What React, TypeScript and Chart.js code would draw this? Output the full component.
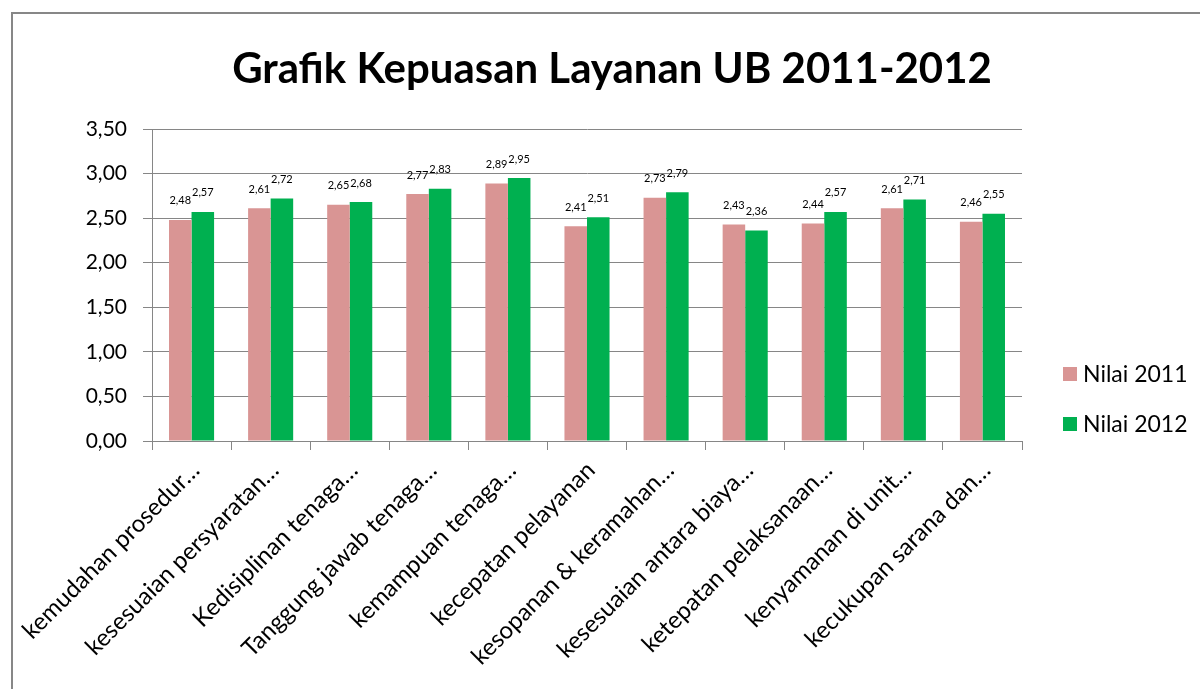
import { useEffect, useRef } from 'react';
import { Chart, registerables } from 'chart.js';

Chart.register(...registerables);

const chartTitle = 'Grafik Kepuasan Layanan UB 2011-2012';
const categories = [
  'kemudahan prosedur…',
  'kesesuaian persyaratan…',
  'Kedisiplinan tenaga…',
  'Tanggung jawab tenaga…',
  'kemampuan tenaga…',
  'kecepatan pelayanan',
  'kesopanan & keramahan…',
  'kesesuaian antara biaya…',
  'ketepatan pelaksanaan…',
  'kenyamanan di unit…',
  'kecukupan sarana dan…',
];
const seriesNames = ['Nilai 2011', 'Nilai 2012'];
const nilai2011 = [2.48, 2.61, 2.65, 2.77, 2.89, 2.41, 2.73, 2.43, 2.44, 2.61, 2.46];
const nilai2012 = [2.57, 2.72, 2.68, 2.83, 2.95, 2.51, 2.79, 2.36, 2.57, 2.71, 2.55];
const yMin = 0;
const yMax = 3.5;
const yStep = 0.5;

const seriesColors = ['#D99594', '#00B050'];
const gridColor = '#868686';
const FONT = 'Lato, "Open Sans", sans-serif';

const fmt = (v: number) => v.toFixed(2).replace('.', ',');

const framePlugin = {
  id: 'frame',
  beforeDraw(chart: any) {
    const ctx = chart.ctx;
    ctx.save();
    ctx.fillStyle = '#ffffff';
    ctx.fillRect(0, 0, chart.width, chart.height);
    ctx.strokeStyle = '#878787';
    ctx.lineWidth = 2;
    ctx.beginPath();
    ctx.moveTo(12, chart.height);
    ctx.lineTo(12, 13);
    ctx.lineTo(chart.width, 13);
    ctx.stroke();
    ctx.restore();
  },
};

const titlePlugin = {
  id: 'customTitle',
  afterDraw(chart: any) {
    const ctx = chart.ctx;
    ctx.save();
    let size = 40;
    ctx.font = `bold ${size}px ${FONT}`;
    const w = ctx.measureText(chartTitle).width;
    size = size * (760 / w);
    ctx.font = `bold ${size}px ${FONT}`;
    ctx.fillStyle = '#000000';
    ctx.textAlign = 'center';
    ctx.textBaseline = 'alphabetic';
    ctx.fillText(chartTitle, 612, 83);
    ctx.restore();
  },
};

const legendPlugin = {
  id: 'customLegend',
  afterDraw(chart: any) {
    const ctx = chart.ctx;
    ctx.save();
    ctx.font = `23px ${FONT}`;
    ctx.textBaseline = 'middle';
    ctx.textAlign = 'left';
    chart.data.datasets.forEach((ds: any, i: number) => {
      const cy = 374 + i * 50;
      ctx.fillStyle = ds.backgroundColor;
      ctx.fillRect(1063, cy - 7, 14, 14);
      ctx.fillStyle = '#000000';
      ctx.fillText(ds.label, 1083, cy + 1);
    });
    ctx.restore();
  },
};

const dataLabelPlugin = {
  id: 'dataLabels',
  afterDatasetsDraw(chart: any) {
    const ctx = chart.ctx;
    ctx.save();
    ctx.font = `11px ${FONT}`;
    ctx.fillStyle = '#000000';
    ctx.textAlign = 'center';
    ctx.textBaseline = 'middle';
    chart.data.datasets.forEach((ds: any, i: number) => {
      const meta = chart.getDatasetMeta(i);
      meta.data.forEach((bar: any, j: number) => {
        ctx.fillText(fmt(ds.data[j]), bar.x, bar.y - 19);
      });
    });
    ctx.restore();
  },
};

export default function App() {
  const ref = useRef<HTMLCanvasElement | null>(null);

  useEffect(() => {
    if (!ref.current) return;
    const chart = new Chart(ref.current, {
      type: 'bar',
      data: {
        labels: categories,
        datasets: [
          { label: seriesNames[0], data: nilai2011, backgroundColor: seriesColors[0] },
          { label: seriesNames[1], data: nilai2012, backgroundColor: seriesColors[1] },
        ],
      },
      options: {
        responsive: false,
        animation: false,
        devicePixelRatio: 1,
        layout: { padding: { top: 129, right: 178, bottom: 0, left: 0 } },
        datasets: {
          bar: { categoryPercentage: 0.57, barPercentage: 1.0, borderWidth: 0 },
        },
        plugins: {
          legend: { display: false },
          title: { display: false },
          tooltip: { enabled: false },
        },
        scales: {
          x: {
            offset: true,
            grid: {
              display: true,
              offset: true,
              drawOnChartArea: false,
              drawTicks: true,
              tickLength: 9,
              color: gridColor,
            },
            border: { display: true, color: gridColor, width: 1 },
            ticks: {
              autoSkip: false,
              minRotation: 45,
              maxRotation: 45,
              padding: 6,
              labelOffset: 4,
              color: '#000000',
              font: { family: FONT, size: 24 },
            },
            afterFit(scale: any) {
              scale.height = 248;
            },
          },
          y: {
            min: yMin,
            max: yMax,
            ticks: {
              stepSize: yStep,
              color: '#000000',
              padding: 16,
              font: { family: FONT, size: 21 },
              callback: (v: any) => fmt(Number(v)),
            },
            grid: { color: gridColor, tickLength: 9, drawTicks: true },
            border: { display: true, color: gridColor, width: 1 },
            afterFit(scale: any) {
              scale.width = 152;
            },
          },
        },
      },
      plugins: [framePlugin, titlePlugin, legendPlugin, dataLabelPlugin],
    });
    return () => chart.destroy();
  }, []);

  return (
    <div style={{ position: 'absolute', left: 0, top: 0, width: 1200, height: 689, background: '#fff' }}>
      <canvas ref={ref} width={1200} height={689} style={{ display: 'block', width: 1200, height: 689 }} />
    </div>
  );
}
